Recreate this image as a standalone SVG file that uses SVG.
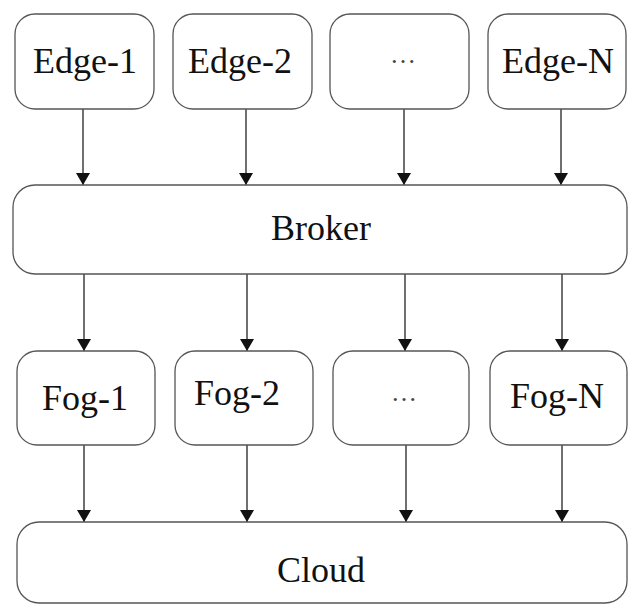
<svg xmlns="http://www.w3.org/2000/svg" width="629" height="608" viewBox="0 0 629 608">
<style>
.box{fill:#fff;stroke:#555;stroke-width:1.3}
.lbl{font-family:"Liberation Serif","Times New Roman",serif;font-size:36px;fill:#111;text-anchor:middle}
.dots{font-family:"Liberation Serif","Times New Roman",serif;font-size:26px;fill:#444;text-anchor:middle}
.conn{stroke:#222;stroke-width:1.3;fill:none;marker-end:url(#ah)}
</style>
<defs>
<marker id="ah" viewBox="0 0 12 14" refX="12" refY="7" markerWidth="12" markerHeight="14" markerUnits="userSpaceOnUse" orient="auto">
<path d="M0,0 L12,7 L0,14 Z" fill="#111"/>
</marker>
</defs>
<rect width="629" height="608" fill="#fff"/>
<g id="connectors">
<line class="conn" x1="83" y1="109" x2="83" y2="185"/>
<line class="conn" x1="246" y1="109" x2="246" y2="185"/>
<line class="conn" x1="404" y1="109" x2="404" y2="185"/>
<line class="conn" x1="561" y1="109" x2="561" y2="185"/>
<line class="conn" x1="84" y1="274" x2="84" y2="351"/>
<line class="conn" x1="247" y1="274" x2="247" y2="351"/>
<line class="conn" x1="405" y1="274" x2="405" y2="351"/>
<line class="conn" x1="562" y1="274" x2="562" y2="351"/>
<line class="conn" x1="84" y1="445" x2="84" y2="522"/>
<line class="conn" x1="247" y1="445" x2="247" y2="522"/>
<line class="conn" x1="406" y1="445" x2="406" y2="522"/>
<line class="conn" x1="562" y1="445" x2="562" y2="522"/>
</g>
<g id="edge1"><rect class="box" x="15" y="14" width="139" height="95" rx="20"/><text class="lbl" x="85" y="73">Edge-1</text></g>
<g id="edge2"><rect class="box" x="173" y="14" width="139" height="95" rx="20"/><text class="lbl" x="240" y="73">Edge-2</text></g>
<g id="edgeDots"><rect class="box" x="330" y="14" width="139" height="95" rx="20"/><text class="dots" x="403" y="63">…</text></g>
<g id="edgeN"><rect class="box" x="488" y="14" width="138" height="95" rx="20"/><text class="lbl" x="558" y="73">Edge-N</text></g>
<g id="broker"><rect class="box" x="13" y="185" width="614" height="89" rx="22"/><text class="lbl" x="321" y="240">Broker</text></g>
<g id="fog1"><rect class="box" x="17" y="351" width="138" height="94" rx="20"/><text class="lbl" x="85" y="410">Fog-1</text></g>
<g id="fog2"><rect class="box" x="175" y="351" width="138" height="94" rx="20"/><text class="lbl" x="237" y="405">Fog-2</text></g>
<g id="fogDots"><rect class="box" x="333" y="351" width="136" height="94" rx="20"/><text class="dots" x="404" y="401">…</text></g>
<g id="fogN"><rect class="box" x="490" y="351" width="137" height="94" rx="20"/><text class="lbl" x="557" y="408">Fog-N</text></g>
<g id="cloud"><rect class="box" x="17" y="522" width="610" height="81" rx="22"/><text class="lbl" x="321" y="582">Cloud</text></g>
</svg>
